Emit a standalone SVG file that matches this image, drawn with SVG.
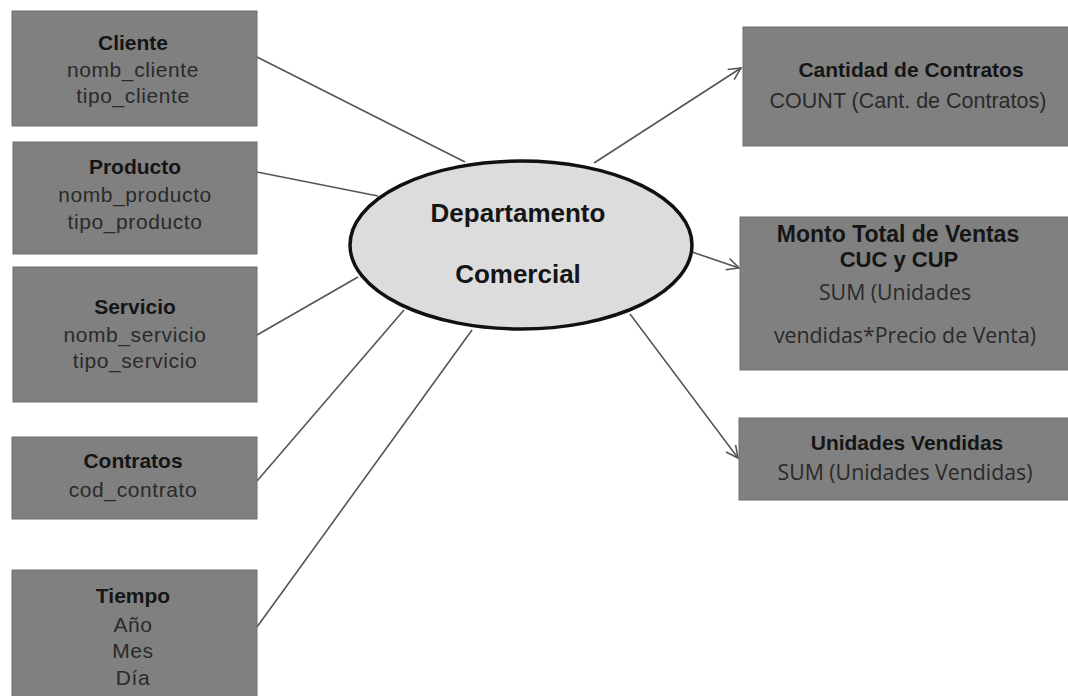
<svg xmlns="http://www.w3.org/2000/svg" width="1068" height="696" viewBox="0 0 1068 696">
<defs>
<style>
.box{fill:#808080;stroke:#6e6e6e;stroke-width:1}
.t{font-family:"Liberation Sans",Arial,sans-serif;font-size:21px;fill:#2a2a2a;text-anchor:middle}
.r{letter-spacing:0.6px}
.b{font-weight:bold;fill:#151515}
.c{font-family:"Open Sans","Liberation Sans",sans-serif;font-size:21.3px}
.ln{stroke:#555;stroke-width:1.6;fill:none}
</style>
<marker id="ah" markerWidth="16" markerHeight="16" refX="14" refY="8" orient="auto" markerUnits="userSpaceOnUse">
<path d="M2,2 L14,8 L2,14" fill="none" stroke="#555" stroke-width="1.6"/>
</marker>
</defs>
<rect width="1068" height="696" fill="#ffffff"/>
<g id="connectors">
<line class="ln" x1="257" y1="57" x2="465" y2="162"/>
<line class="ln" x1="257" y1="172" x2="378" y2="196"/>
<line class="ln" x1="257" y1="335" x2="358" y2="277"/>
<line class="ln" x1="257" y1="481" x2="404" y2="310"/>
<line class="ln" x1="257" y1="627" x2="472" y2="330"/>
<line class="ln" x1="594" y1="163" x2="741" y2="68" marker-end="url(#ah)"/>
<line class="ln" x1="692" y1="252" x2="739" y2="268" marker-end="url(#ah)"/>
<line class="ln" x1="630" y1="314" x2="738" y2="458" marker-end="url(#ah)"/>
</g>
<g id="cliente">
<rect class="box" x="12" y="11" width="245" height="115"/>
<text class="t b" x="133" y="50">Cliente</text>
<text class="t r" x="133" y="77">nomb_cliente</text>
<text class="t r" x="133" y="103">tipo_cliente</text>
</g>
<g id="producto">
<rect class="box" x="13" y="142" width="244" height="112"/>
<text class="t b" x="135" y="174">Producto</text>
<text class="t r" x="135" y="202">nomb_producto</text>
<text class="t r" x="135" y="229">tipo_producto</text>
</g>
<g id="servicio">
<rect class="box" x="13" y="267" width="244" height="135"/>
<text class="t b" x="135" y="314">Servicio</text>
<text class="t r" x="135" y="342">nomb_servicio</text>
<text class="t r" x="135" y="368">tipo_servicio</text>
</g>
<g id="contratos">
<rect class="box" x="12" y="437" width="245" height="82"/>
<text class="t b" x="133" y="468">Contratos</text>
<text class="t r" x="133" y="497">cod_contrato</text>
</g>
<g id="tiempo">
<rect class="box" x="12" y="570" width="245" height="140"/>
<text class="t b" x="133" y="603">Tiempo</text>
<text class="t r" x="133" y="632">Año</text>
<text class="t r" x="133" y="658">Mes</text>
<text class="t r" x="133" y="685">Día</text>
</g>
<g id="departamento">
<ellipse cx="521" cy="245" rx="171" ry="84" fill="#dcdcdc" stroke="#111" stroke-width="3.5"/>
<text class="t b" x="518" y="222" style="font-size:26px">Departamento</text>
<text class="t b" x="518" y="283" style="font-size:26px">Comercial</text>
</g>
<g id="cantidad">
<rect class="box" x="743" y="27" width="330" height="119"/>
<text class="t b" x="911" y="77">Cantidad de Contratos</text>
<text class="t" x="908" y="108" style="font-size:21.5px">COUNT (Cant. de Contratos)</text>
</g>
<g id="monto">
<rect class="box" x="740" y="217" width="333" height="153"/>
<text class="t b" x="898" y="242" style="font-size:23px">Monto Total de Ventas</text>
<text class="t b" x="899" y="267" style="font-size:22px">CUC y CUP</text>
<text class="t c" x="895" y="300">SUM (Unidades</text>
<text class="t c" x="905" y="343">vendidas*Precio de Venta)</text>
</g>
<g id="unidades">
<rect class="box" x="739" y="418" width="334" height="82"/>
<text class="t b" x="907" y="450">Unidades Vendidas</text>
<text class="t c" x="905" y="480">SUM (Unidades Vendidas)</text>
</g>
</svg>
